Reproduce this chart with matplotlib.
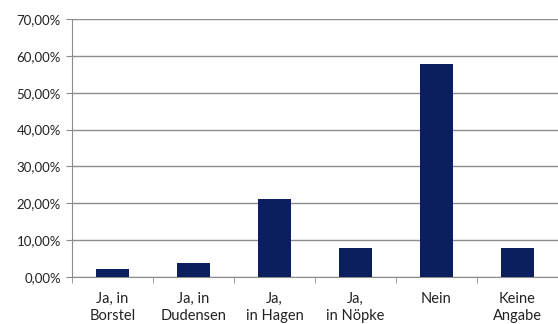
import numpy as np
import matplotlib.pyplot as plt
from matplotlib.ticker import FuncFormatter, FixedLocator

categories = ['Ja, in\nBorstel', 'Ja, in\nDudensen', 'Ja,\nin Hagen',
              'Ja,\nin Nöpke', 'Nein', 'Keine\nAngabe']
values = [2.0, 3.8, 21.2, 7.7, 57.8, 7.7]

plt.rcParams['font.family'] = ['Lato', 'DejaVu Sans']

fig = plt.figure(figsize=(5.58, 3.24), dpi=100)
ax = fig.add_axes([0.129, 0.146, 0.871, 0.795])

x = np.arange(len(categories))
ax.bar(x, values, width=0.41, color='#0b1f5e', zorder=3)

ax.set_xlim(-0.5, len(categories) - 0.5)
ax.set_ylim(0, 70)
ax.set_yticks(np.arange(0, 71, 10))
ax.yaxis.set_major_formatter(FuncFormatter(lambda v, p: f'{v:.2f}%'.replace('.', ',')))
ax.grid(axis='y', color='#8c8c8c', linewidth=1.0, zorder=0)

ax.set_xticks(x)
ax.set_xticklabels(categories, fontsize=10.5, linespacing=1.3, color='#222222')
ax.xaxis.set_minor_locator(FixedLocator(np.arange(-0.5, len(categories), 1)))
ax.tick_params(axis='x', which='major', length=0, pad=11)
ax.tick_params(axis='x', which='minor', length=4, color='#8c8c8c')
ax.tick_params(axis='y', length=4, color='#8c8c8c', labelsize=9.5, pad=4,
               labelcolor='#222222')

for s in ['top', 'right']:
    ax.spines[s].set_visible(False)
for s in ['left', 'bottom']:
    ax.spines[s].set_color('#8c8c8c')

fig.savefig('out.png', dpi=100)
